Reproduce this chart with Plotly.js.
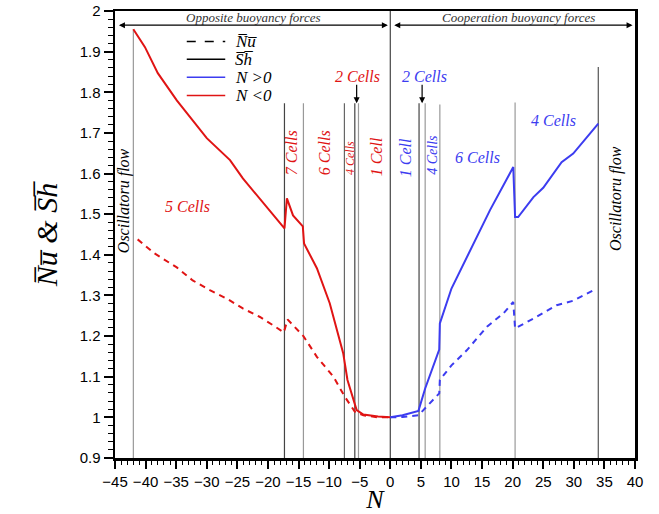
<!DOCTYPE html>
<html>
<head>
<meta charset="utf-8">
<script src="https://cdn.plot.ly/plotly-3.0.1.min.js"></script>
<style>html,body{margin:0;padding:0;background:#fff;}#chart{width:659px;height:514px;}</style>
</head>
<body>
<div id="chart"></div>
<script>
// ---- data ----
const negN_Sh = [-42, -40.1, -38.0, -34.9, -30.0, -26.2, -24.1, -20.2, -17.3, -16.9, -15.9, -14.3, -14.1, -12.0, -9.9, -7.7, -7.0, -5.5, -4.4, -2, 0];
const negSh   = [1.955, 1.911, 1.847, 1.780, 1.687, 1.633, 1.588, 1.517, 1.465, 1.539, 1.497, 1.470, 1.428, 1.367, 1.281, 1.158, 1.092, 1.018, 1.007, 1.002, 1.0];
const negN_Nu = [-41.3, -38.6, -34.9, -32.3, -29.5, -26.7, -24.1, -21.3, -19.2, -17.4, -16.8, -14.2, -12.0, -9.3, -7.4, -5.8, -4.4, -2, 0];
const negNu   = [1.438, 1.404, 1.369, 1.337, 1.313, 1.292, 1.268, 1.247, 1.227, 1.209, 1.241, 1.200, 1.149, 1.100, 1.050, 1.014, 1.005, 1.0, 1.0];
const posN_Sh = [0, 2, 4.6, 5.7, 8.0, 8.1, 10.0, 12.5, 16.3, 20.1, 20.4, 20.9, 23.4, 25.0, 28.0, 29.9, 34.0];
const posSh   = [1.0, 1.005, 1.016, 1.071, 1.167, 1.231, 1.317, 1.395, 1.510, 1.616, 1.493, 1.493, 1.542, 1.565, 1.628, 1.649, 1.723];
const posN_Nu = [0, 2, 4.6, 5.7, 8.0, 8.1, 10.0, 12.5, 15.8, 18.5, 20.1, 20.4, 23.4, 27.2, 29.9, 33.5];
const posNu   = [1.0, 1.001, 1.005, 1.022, 1.059, 1.092, 1.128, 1.165, 1.223, 1.256, 1.284, 1.219, 1.243, 1.276, 1.287, 1.315];

// regime boundaries (vertical lines) and their top values
const boundaryN   = [-42, -17.3, -14.2, -7.5, -5.8, -5.2, 0, 4.7, 5.7, 8.1, 20.4, 34.0];
const boundaryTop = [1.955, 1.773, 1.773, 1.773, 1.773, 1.773, 2.0, 1.773, 1.773, 1.770, 1.775, 1.862];
const boundaryCol = ['#999','#444','#999','#666','#444','#999','#444','#444','#999','#999','#999','#555'];

// region labels
const labelText = ['Oscillatoru flow','5 Cells','7 Cells','6 Cells','4 Cells','1 Cell','1 Cell','4 Cells','6 Cells','4 Cells','Oscillatoru flow','2 Cells','2 Cells'];
const labelN    = [-43.4, -33.2, -16.1, -10.7, -6.6, -2.2, 2.4, 6.9, 14.2, 26.6, 37.0, -5.3, 5.6];
const labelY    = [1.534, 1.520, 1.652, 1.652, 1.638, 1.642, 1.640, 1.645, 1.640, 1.731, 1.539, 1.839, 1.839];

const legendLabels = ['N\u0305u\u0305', 'S\u0305h\u0305', 'N >0', 'N <0'];
const topLabels = ['Opposite buoyancy forces', 'Cooperation buoyancy forces'];

const RED = '#e01414', BLUE = '#3c3cf0';
const serif = '"Liberation Serif", "Times New Roman", serif';

const traces = [];
boundaryN.forEach((n, i) => {
  traces.push({x: [n, n], y: [0.9, boundaryTop[i]], mode: 'lines', line: {color: boundaryCol[i], width: 1.2}, showlegend: false, hoverinfo: 'skip'});
});
traces.push({x: negN_Nu, y: negNu, mode: 'lines', line: {color: RED, width: 2, dash: '6px,5px'}, showlegend: false});
traces.push({x: posN_Nu, y: posNu, mode: 'lines', line: {color: BLUE, width: 2, dash: '6px,5px'}, showlegend: false});
traces.push({x: negN_Sh, y: negSh, mode: 'lines', line: {color: RED, width: 2}, showlegend: false});
traces.push({x: posN_Sh, y: posSh, mode: 'lines', line: {color: BLUE, width: 2}, showlegend: false});

const labelColor = ['#000', RED, RED, RED, RED, RED, BLUE, BLUE, BLUE, BLUE, '#000', RED, BLUE];
const labelAngle = [-90, 0, -90, -90, -90, -90, -90, -90, 0, 0, -90, 0, 0];
const labelSize  = [16, 16, 16, 16, 12, 16, 16, 14, 16, 16, 16, 16, 16];

const annotations = labelText.map((t, i) => ({
  x: labelN[i], y: labelY[i], xref: 'x', yref: 'y', xanchor: 'center', yanchor: 'middle',
  text: '<i>' + t + '</i>', showarrow: false,
  textangle: labelAngle[i], font: {family: serif, size: labelSize[i], color: labelColor[i]}
}));
// small down arrows for "2 Cells"
[-5.5, 5.2].forEach(n => annotations.push({
  x: n, y: 1.773, ax: n, ay: 1.822, xref: 'x', yref: 'y', axref: 'x', ayref: 'y', text: '',
  showarrow: true, arrowhead: 2, arrowsize: 1, arrowwidth: 1.2, arrowcolor: '#000'
}));
// top double arrows
annotations.push({x: -0.4, y: 1.965, ax: -44.6, ay: 1.965, xref: 'x', yref: 'y', axref: 'x', ayref: 'y', text: '',
  showarrow: true, arrowhead: 2, startarrowhead: 2, arrowside: 'end+start', arrowsize: 1, arrowwidth: 1.2, arrowcolor: '#000'});
annotations.push({x: 39.6, y: 1.965, ax: 0.4, ay: 1.965, xref: 'x', yref: 'y', axref: 'x', ayref: 'y', text: '',
  showarrow: true, arrowhead: 2, startarrowhead: 2, arrowside: 'end+start', arrowsize: 1, arrowwidth: 1.2, arrowcolor: '#000'});
annotations.push({x: -22.4, y: 1.984, xref: 'x', yref: 'y', yanchor: 'middle', text: '<i>' + topLabels[0] + '</i>', showarrow: false, font: {family: serif, size: 13, color: '#333'}});
annotations.push({x: 20.9, y: 1.984, xref: 'x', yref: 'y', yanchor: 'middle', text: '<i>' + topLabels[1] + '</i>', showarrow: false, font: {family: serif, size: 13, color: '#333'}});

// manual legend
const legY = [0.932, 0.892, 0.852, 0.811];
const legCol = ['#000', '#000', BLUE, RED];
const legDash = ['dash', 'solid', 'solid', 'solid'];
const shapes = [];
legendLabels.forEach((t, i) => {
  shapes.push({type: 'line', xref: 'paper', yref: 'paper', x0: 0.138, x1: 0.212, y0: legY[i], y1: legY[i], line: {color: legCol[i], width: 1.5, dash: legDash[i]}});
  annotations.push({x: 0.226, y: legY[i], xref: 'paper', yref: 'paper', xanchor: 'left', yanchor: 'middle', text: '<i>' + t + '</i>', showarrow: false, font: {family: serif, size: 17, color: '#000'}});
});

const layout = {
  width: 659, height: 514,
  margin: {l: 115, r: 24, t: 11, b: 56},
  paper_bgcolor: '#fff', plot_bgcolor: '#fff',
  showlegend: false,
  xaxis: {
    range: [-45, 40], dtick: 5, tick0: 0, ticks: 'outside', ticklen: 8, tickwidth: 2, tickcolor: '#000',
    minor: {dtick: 1, ticks: 'outside', ticklen: 4, tickwidth: 1, tickcolor: '#000'},
    showgrid: false, zeroline: false, showline: true, linecolor: '#000', linewidth: 2.5, mirror: true,
    tickfont: {family: '"Liberation Sans", Arial, sans-serif', size: 15, color: '#000'},
    title: {text: '<i>N</i>', font: {family: serif, size: 26, color: '#000'}, standoff: 0}
  },
  yaxis: {
    range: [0.9, 2.0], dtick: 0.1, tick0: 0, ticks: 'outside', ticklen: 9, tickwidth: 2, tickcolor: '#000',
    minor: {dtick: 0.02, ticks: 'outside', ticklen: 5, tickwidth: 1, tickcolor: '#000'},
    showgrid: false, zeroline: false, showline: true, linecolor: '#000', linewidth: 2.5, mirror: true,
    tickfont: {family: '"Liberation Sans", Arial, sans-serif', size: 15, color: '#000'},
    title: {text: '<i>N\u0305u\u0305 &amp; S\u0305h\u0305</i>', font: {family: serif, size: 30, color: '#000'}, standoff: 13}
  },
  annotations: annotations,
  shapes: shapes
};

Plotly.newPlot('chart', traces, layout, {displayModeBar: false, staticPlot: true});
</script>
</body>
</html>
